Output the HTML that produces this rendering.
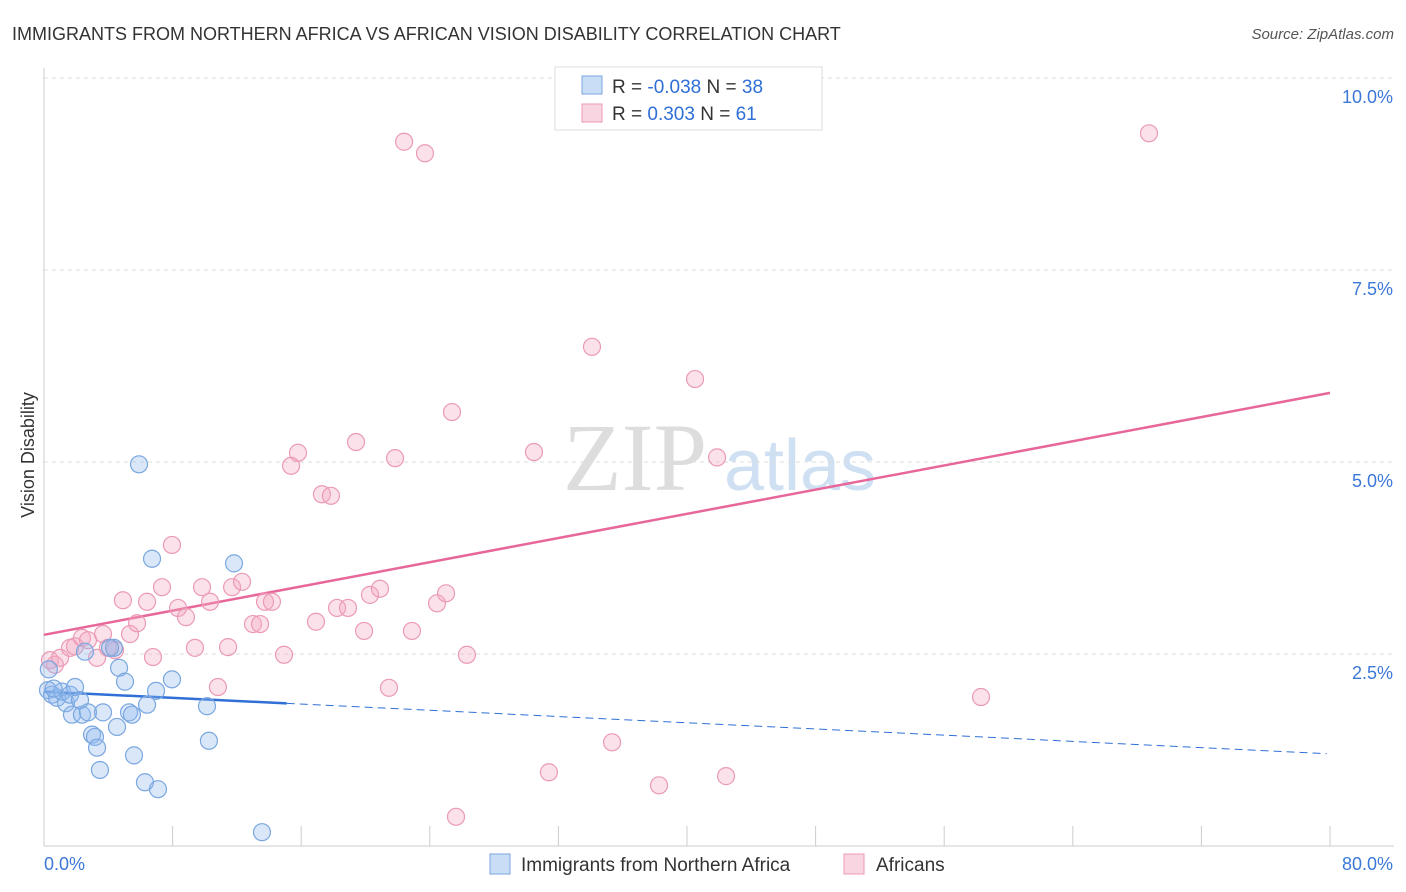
<!DOCTYPE html>
<html><head><meta charset="utf-8"><style>
body{margin:0;background:#fff;font-family:"Liberation Sans",sans-serif;}
svg{display:block}
</style></head><body>
<svg width="1406" height="892" viewBox="0 0 1406 892">
<text x="12" y="40" font-size="18" fill="#333">IMMIGRANTS FROM NORTHERN AFRICA VS AFRICAN VISION DISABILITY CORRELATION CHART</text>
<text x="1394" y="39" font-size="15" fill="#555" font-style="italic" text-anchor="end">Source: ZipAtlas.com</text>
<g>
<text x="635" y="490" font-size="96" fill="#ddd" text-anchor="middle" font-family="Liberation Serif,serif">ZIP</text>
<text x="800" y="490" font-size="72" fill="#cfe0f3" text-anchor="middle">atlas</text>
</g>
<g id="grid"></g>
<g id="axes"></g>
<text transform="translate(34,455) rotate(-90)" font-size="18" fill="#333" text-anchor="middle">Vision Disability</text>
<g id="lines"></g>
<g id="pts"></g>
<g>
<rect x="555" y="67" width="267" height="63" fill="#fff" stroke="#ddd"/>
<rect x="582" y="76" width="20" height="18" fill="rgba(147,187,238,0.5)" stroke="#7aa7e0"/>
<rect x="582" y="104" width="20" height="18" fill="rgba(244,170,195,0.5)" stroke="#eb9ab5"/>
<text x="612" y="93" font-size="19" fill="#333">R = <tspan fill="#2f6fd6">-0.038</tspan>   N = <tspan fill="#2f6fd6">38</tspan></text>
<text x="612" y="120" font-size="19" fill="#333">R =  <tspan fill="#2f6fd6"> 0.303</tspan>   N =  <tspan fill="#2f6fd6">61</tspan></text>
</g>
<g>
<rect x="490" y="854" width="20" height="20" fill="rgba(147,187,238,0.5)" stroke="#7aa7e0"/>
<text x="521" y="871" font-size="19" fill="#333">Immigrants from Northern Africa</text>
<rect x="844" y="854" width="20" height="20" fill="rgba(244,170,195,0.5)" stroke="#eb9ab5"/>
<text x="876" y="871" font-size="19" fill="#333">Africans</text>
</g>
</svg>
<script>
const blueX=[0.25,0.50,0.81,1.12,1.37,1.62,1.93,1.74,2.36,2.74,2.24,2.55,2.99,3.17,3.30,3.48,3.67,4.35,4.54,4.67,5.04,5.29,5.47,5.60,5.91,6.28,6.41,6.72,6.97,7.09,7.96,10.14,10.26,11.82,13.56,4.11,0.3,0.6];
const blueY=[2.03,1.97,1.93,2.01,1.86,1.97,2.07,1.71,1.71,1.74,1.90,2.53,1.45,1.42,1.28,0.99,1.74,2.58,1.55,2.32,2.14,1.74,1.71,1.18,4.97,0.83,1.84,3.74,2.02,0.74,2.17,1.82,1.37,3.68,0.18,2.58,2.3,2.05];
const pinkX=[0.37,0.68,1.00,1.62,1.93,2.36,2.74,3.30,3.67,3.98,4.42,4.91,5.35,5.79,6.41,6.78,7.34,7.96,8.34,8.83,9.39,9.83,10.33,10.82,11.45,11.70,12.32,13.00,13.44,13.75,14.18,14.93,15.37,15.80,16.92,17.29,17.85,18.23,18.91,19.41,19.91,20.28,20.90,21.46,21.84,22.40,22.89,23.70,24.45,25.01,25.38,25.63,26.31,30.48,31.41,34.09,35.34,38.26,40.50,41.87,42.43,58.29,68.74];
const pinkY=[2.42,2.36,2.45,2.58,2.60,2.71,2.68,2.45,2.76,2.58,2.55,3.20,2.76,2.90,3.18,2.46,3.37,3.92,3.10,2.98,2.58,3.37,3.18,2.07,2.59,3.37,3.44,2.89,2.89,3.18,3.18,2.49,4.95,5.12,2.92,4.58,4.56,3.10,3.10,5.26,2.80,3.27,3.35,2.06,5.05,9.17,2.80,9.02,3.16,3.29,5.65,0.38,2.49,5.13,0.96,6.50,1.35,0.79,6.08,5.06,0.91,1.94,9.28];
const yTicks=[2.5,5.0,7.5,10.0];
const yTickLabels=["2.5%","5.0%","7.5%","10.0%"];
const xTickVals=[0,8,16,24,32,40,48,56,64,72,80];
const blueTrend=[2.01,1.20];const blueSolidEnd=15.1;
const pinkTrend=[2.75,5.90];
const NS="http://www.w3.org/2000/svg";
const sx=v=>44+v/80*1286, sy=v=>846-v/2.5*192;
function mk(tag,attrs,parent){const e=document.createElementNS(NS,tag);for(const k in attrs)e.setAttribute(k,attrs[k]);parent.appendChild(e);return e;}
const grid=document.getElementById('grid'),axes=document.getElementById('axes'),lines=document.getElementById('lines'),pts=document.getElementById('pts');
yTicks.forEach((t,i)=>{const l=mk('line',{x1:44,x2:1394,y1:sy(t),y2:sy(t),stroke:'#ddd','stroke-dasharray':'4,4'},grid);


const tx=mk('text',{x:1393,y:sy(t)+25,'font-size':18,fill:'#3b78d8','text-anchor':'end'},axes);tx.textContent=yTickLabels[i];

});
mk('line',{x1:44,x2:44,y1:68,y2:846,stroke:'#ccc'},axes);
mk('line',{x1:44,x2:1394,y1:846,y2:846,stroke:'#ccc'},axes);
xTickVals.forEach(v=>{if(v===0)return;const t=mk('line',{x1:sx(v),x2:sx(v),y1:826,y2:846,stroke:'#ccc'},axes);

});
const x0=mk('text',{x:44,y:870,'font-size':18,fill:'#3b78d8'},axes);x0.textContent='0.0%';


const x1=mk('text',{x:1393,y:870,'font-size':18,fill:'#3b78d8','text-anchor':'end'},axes);x1.textContent='80.0%';


function dot(x,y,fill,stroke,name){const c=mk('circle',{cx:sx(x),cy:sy(y),r:8.5,fill:fill,stroke:stroke,'stroke-width':1.2},pts);

}
pinkX.forEach((x,i)=>dot(x,pinkY[i],'rgba(244,170,195,0.35)','#eb9ab5','africans-point'));
blueX.forEach((x,i)=>dot(x,blueY[i],'rgba(147,187,238,0.35)','#7aa7e0','immigrants-point'));
const bAt=v=>blueTrend[0]+(blueTrend[1]-blueTrend[0])*v/80;
const pl=mk('line',{x1:sx(0),y1:sy(pinkTrend[0]),x2:sx(80),y2:sy(pinkTrend[1]),stroke:'#e8679a','stroke-width':2.5},lines);


const bl=mk('line',{x1:sx(0),y1:sy(bAt(0)),x2:sx(blueSolidEnd),y2:sy(bAt(blueSolidEnd)),stroke:'#2f6fd6','stroke-width':2.5},lines);


const bd=mk('line',{x1:sx(blueSolidEnd),y1:sy(bAt(blueSolidEnd)),x2:sx(79.8),y2:sy(bAt(79.8)),stroke:'#2f6fd6','stroke-width':1,'stroke-dasharray':'8,5'},lines);


</script>
</body></html>
